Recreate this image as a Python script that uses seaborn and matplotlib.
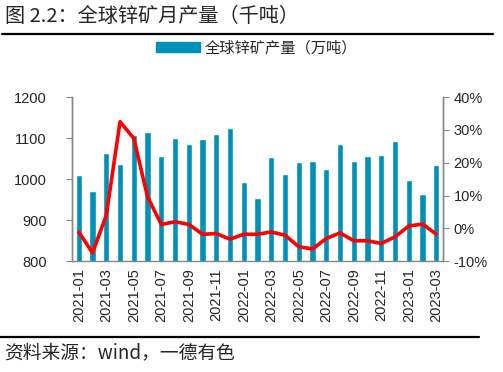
import numpy as np
import pandas as pd
import seaborn as sns
import matplotlib.pyplot as plt
import matplotlib.ticker as mticker
from matplotlib.patches import Patch

months = ["2021-01", "2021-02", "2021-03", "2021-04", "2021-05", "2021-06", "2021-07",
          "2021-08", "2021-09", "2021-10", "2021-11", "2021-12", "2022-01", "2022-02",
          "2022-03", "2022-04", "2022-05", "2022-06", "2022-07", "2022-08", "2022-09",
          "2022-10", "2022-11", "2022-12", "2023-01", "2023-02", "2023-03"]
output = [1010, 971, 1063, 1037, 1107, 1115, 1056, 1100, 1085, 1097, 1110, 1124, 993, 953,
          1053, 1012, 1042, 1043, 1024, 1085, 1043, 1056, 1058, 1093, 998, 964, 1034]
yoy = [-1.1, -7.5, 4.0, 32.5, 27.4, 9.6, 1.2, 2.0, 1.2, -1.8, -1.6, -3.3, -1.8, -1.8,
       -1.1, -2.1, -5.6, -6.3, -3.1, -1.4, -3.8, -3.8, -4.6, -2.6, 0.7, 1.3, -1.8]

df = pd.DataFrame({"month": months, "output": output, "yoy": yoy})
df["pos"] = np.arange(len(df))

sns.set_style("white")
plt.rcParams["font.family"] = ["Liberation Sans", "Noto Sans CJK SC", "DejaVu Sans"]

fig = plt.figure(figsize=(5.03, 3.72), dpi=100)
ax = fig.add_axes([0.143, 0.298, 0.738, 0.441])

bar_color = "#0091B8"
sns.barplot(data=df, x="month", y="output", color=bar_color, width=0.45,
            saturation=1, ax=ax)
ax.set_ylim(800, 1200)
ax.set_xlim(-0.5, len(df) - 0.5)
ax.set_yticks([800, 900, 1000, 1100, 1200])
ax.set_xlabel("")
ax.set_ylabel("")

# ticks at category boundaries, labels on every other bar
ax.set_xticks(np.arange(-0.5, len(df), 2))
ax.set_xticklabels([])
ax.set_xticks(np.arange(0, len(df), 2), minor=True)
ax.set_xticklabels(months[::2], minor=True, rotation=90, fontsize=10.5)
ax.tick_params(axis="x", which="major", length=4, color="#888888", direction="out")
ax.tick_params(axis="x", which="minor", length=0, pad=5)
ax.tick_params(axis="y", length=4, color="#888888", labelsize=10.5, direction="out", pad=14)

ax2 = ax.twinx()
sns.lineplot(data=df, x="pos", y="yoy", color="#FF0000", linewidth=2.6, ax=ax2)
ax2.set_ylim(-10, 40)
ax2.set_yticks([-10, 0, 10, 20, 30, 40])
ax2.yaxis.set_major_formatter(mticker.FuncFormatter(lambda v, p: f"{v:.0f}%"))
ax2.set_xlabel("")
ax2.set_ylabel("")
ax2.tick_params(axis="y", length=4, color="#888888", labelsize=10.5, direction="out")

for a in (ax, ax2):
    a.spines["top"].set_visible(False)
    for side in ("left", "right", "bottom"):
        a.spines[side].set_color("#888888")
        a.spines[side].set_linewidth(1)
ax2.spines["bottom"].set_visible(False)

fig.legend(handles=[Patch(color=bar_color, label="全球锌矿产量（万吨）")],
           loc="center", bbox_to_anchor=(0.51, 0.872), frameon=False,
           handlelength=2.9, handleheight=0.6, handletextpad=0.3,
           prop={"family": ["Noto Sans CJK SC"], "size": 11})

fig.text(0.01, 0.955, "图 2.2：全球锌矿月产量（千吨）", fontsize=14.5,
         family=["Noto Sans CJK SC"], va="center", ha="left")
fig.add_artist(plt.Line2D([0.004, 0.98], [0.908, 0.908], color="black", lw=1.6))
fig.add_artist(plt.Line2D([0.0, 0.952], [0.094, 0.094], color="black", lw=1.6))
fig.text(0.008, 0.052, "资料来源：wind，一德有色", fontsize=13.5,
         family=["Noto Sans CJK SC"], va="center", ha="left")

fig.savefig("out.png", dpi=100)
